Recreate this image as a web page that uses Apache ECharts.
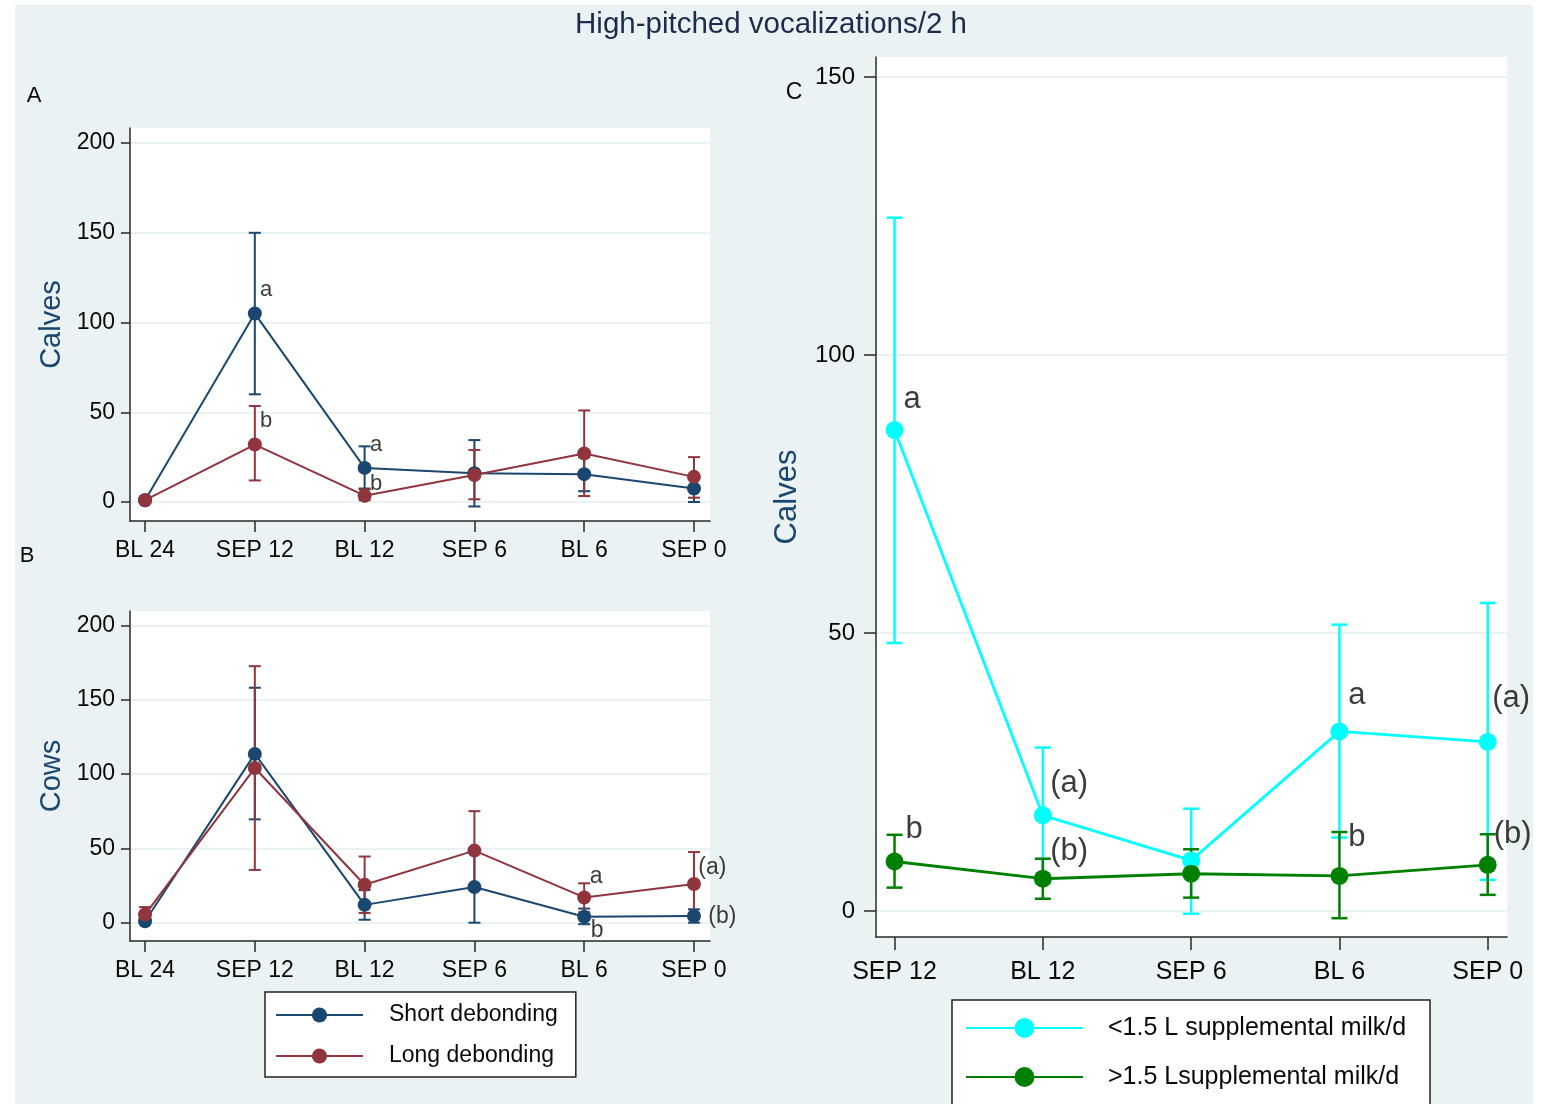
<!DOCTYPE html>
<html>
<head>
<meta charset="utf-8">
<script src="https://cdn.jsdelivr.net/npm/echarts@6/dist/echarts.min.js"></script>
<style>
html,body{margin:0;padding:0;background:#fff;}
#c{width:1542px;height:1104px;}
</style>
</head>
<body>
<div id="c"></div>
<script>
// ---------- data ----------
const catsAB = ['BL 24', 'SEP 12', 'BL 12', 'SEP 6', 'BL 6', 'SEP 0'];
const catsC = ['SEP 12', 'BL 12', 'SEP 6', 'BL 6', 'SEP 0'];
const yTicksAB = [0, 50, 100, 150, 200];
const yTicksC = [0, 50, 100, 150];

// Panel A: calves
const calvesShortMean = [1, 105, 19, 16, 15.5, 7.5];
const calvesShortLow  = [0.5, 60, 7.5, -2.5, 6, 0];
const calvesShortHigh = [1.5, 150, 31, 34.5, 25, 14];
const calvesLongMean  = [1, 32, 3.5, 15, 27, 14];
const calvesLongLow   = [0.5, 12, 1, 1.5, 3.3, 2.4];
const calvesLongHigh  = [1.5, 53.5, 7, 29, 51, 25];

// Panel B: cows
const cowsShortMean = [1, 113.5, 12, 24, 4, 4.5];
const cowsShortLow  = [0, 69.5, 2, 0, -1, 0];
const cowsShortHigh = [2, 158, 22, 48, 9.5, 9];
const cowsLongMean  = [5.5, 104, 25.5, 48.5, 17, 26];
const cowsLongLow   = [0.5, 35.5, 6.5, 22, 7, 5];
const cowsLongHigh  = [10.5, 172.5, 44.5, 75, 26.5, 47.5];

// Panel C: calves by supplemental milk
const lowMilkMean  = [86.5, 17.2, 9.1, 32.3, 30.4];
const lowMilkLow   = [48.2, 5, -0.5, 13.2, 5.6];
const lowMilkHigh  = [124.7, 29.4, 18.4, 51.5, 55.4];
const highMilkMean = [8.9, 5.8, 6.7, 6.3, 8.3];
const highMilkLow  = [4.2, 2.2, 2.4, -1.3, 2.9];
const highMilkHigh = [13.7, 9.4, 11.1, 14.2, 13.8];

// significance letters: [x (category units), y (value), text]
const lettersA = [[1.047, 118, 'a'], [1.047, 45, 'b'], [2.05, 32, 'a'], [2.05, 10, 'b']];
const lettersB = [[4.05, 30.7, 'a'], [4.06, -5.6, 'b'], [5.04, 36.8, '(a)'], [5.13, 3.8, '(b)']];
const lettersC = [[0.06, 92, 'a'], [0.074, 14.6, 'b'], [1.05, 22.9, '(a)'], [1.05, 10.7, '(b)'],
                  [3.06, 38.7, 'a'], [3.06, 13.2, 'b'], [4.03, 38.2, '(a)'], [4.04, 13.7, '(b)']];

const names = ['Short debonding', 'Long debonding', '<1.5 L supplemental milk/d', '>1.5 Lsupplemental milk/d'];

// ---------- styling ----------
const FONT = '"Liberation Sans", Arial, sans-serif';
const BG = '#eaf2f3';
const NAVY = '#1a476f';
const MAROON = '#90353b';
const CYAN = '#00ffff';
const GREEN = '#008000';
const INK = '#0a0a0a';

const zip = (m) => m.map((v, i) => [i, v]);
const zipErr = (lo, hi) => lo.map((v, i) => [i, v, hi[i]]);

function errRender(cap, color, width) {
  return function (params, api) {
    const x = api.value(0), lo = api.value(1), hi = api.value(2);
    const p1 = api.coord([x, lo]), p2 = api.coord([x, hi]);
    const style = { stroke: color, lineWidth: width, fill: null };
    return {
      type: 'group', children: [
        { type: 'line', shape: { x1: p1[0], y1: p1[1], x2: p2[0], y2: p2[1] }, style },
        { type: 'line', shape: { x1: p1[0] - cap, y1: p1[1], x2: p1[0] + cap, y2: p1[1] }, style },
        { type: 'line', shape: { x1: p2[0] - cap, y1: p2[1], x2: p2[0] + cap, y2: p2[1] }, style }
      ]
    };
  };
}

function errSeries(idx, lo, hi, color, cap, width) {
  return {
    type: 'custom', xAxisIndex: idx, yAxisIndex: idx,
    data: zipErr(lo, hi), encode: { x: 0, y: [1, 2] },
    renderItem: errRender(cap, color, width), silent: true, z: 2
  };
}

function lineSeries(idx, name, mean, color, size, width) {
  return {
    type: 'line', name, xAxisIndex: idx, yAxisIndex: idx,
    data: zip(mean), symbol: 'circle', symbolSize: size, showSymbol: true,
    lineStyle: { color, width }, itemStyle: { color }, z: 3, animation: false
  };
}

function letterSeries(idx, arr, fs) {
  return {
    type: 'scatter', xAxisIndex: idx, yAxisIndex: idx, symbolSize: 0, silent: true, z: 5,
    data: arr.map(d => ({ value: [d[0], d[1]], name: d[2] })),
    label: { show: true, position: 'right', distance: 0, formatter: p => p.name,
             fontSize: fs, fontFamily: FONT, color: INK }
  };
}

function xAxis(idx, cats, min, max, fs, tickLen, margin) {
  const vals = cats.map((c, i) => i);
  return {
    type: 'value', gridIndex: idx, min, max,
    axisLine: { show: true, onZero: false, lineStyle: { color: '#2a2a2a', width: 1.5 } },
    axisTick: { show: true, length: tickLen, customValues: vals, lineStyle: { color: '#2a2a2a', width: 1.5 } },
    axisLabel: { customValues: vals, formatter: v => cats[Math.round(v)], fontSize: fs, fontFamily: FONT,
                 color: INK, margin },
    splitLine: { show: false }
  };
}

function yAxis(idx, ticks, min, max, fs, tickLen, margin, name, nfs, gap) {
  return {
    type: 'value', gridIndex: idx, min, max,
    name, nameLocation: 'middle', nameGap: gap, nameRotate: 90,
    nameTextStyle: { fontSize: nfs, fontFamily: FONT, color: NAVY },
    axisLine: { show: true, onZero: false, lineStyle: { color: '#2a2a2a', width: 1.5 } },
    axisTick: { show: true, length: tickLen, customValues: ticks, lineStyle: { color: '#2a2a2a', width: 1.5 } },
    axisLabel: { customValues: ticks, fontSize: fs, fontFamily: FONT, color: INK, margin },
    splitLine: { show: true, lineStyle: { color: BG, width: 2 } }
  };
}

const chart = echarts.init(document.getElementById('c'), null, { renderer: 'canvas' });

const option = {
  backgroundColor: '#fff',
  animation: false,
  title: {
    text: 'High-pitched vocalizations/2 h', left: 'center', top: 5,
    textStyle: { fontSize: 29.5, fontFamily: FONT, fontWeight: 'normal', color: '#1c2c4c' }
  },
  graphic: [
    { type: 'rect', z: -10, shape: { x: 15, y: 5, width: 1518, height: 1100 }, style: { fill: BG }, silent: true },
    { type: 'rect', z: 0, shape: { x: 952, y: 1000, width: 478, height: 120 }, style: { fill: '#fff', stroke: '#222', lineWidth: 1.5 }, silent: true },
    { type: 'text', x: 34, y: 96, style: { text: 'A', fontSize: 22, fontFamily: FONT, fill: INK, align: 'center', verticalAlign: 'middle' } },
    { type: 'text', x: 27, y: 556, style: { text: 'B', fontSize: 22, fontFamily: FONT, fill: INK, align: 'center', verticalAlign: 'middle' } },
    { type: 'text', x: 794, y: 93, style: { text: 'C', fontSize: 23, fontFamily: FONT, fill: INK, align: 'center', verticalAlign: 'middle' } }
  ],
  grid: [
    { left: 130, top: 128, width: 580, height: 393, show: true, backgroundColor: '#fff', borderWidth: 0 },
    { left: 130, top: 611, width: 580, height: 330, show: true, backgroundColor: '#fff', borderWidth: 0 },
    { left: 876, top: 57, width: 631, height: 880, show: true, backgroundColor: '#fff', borderWidth: 0 }
  ],
  xAxis: [
    xAxis(0, catsAB, -0.137, 5.146, 23, 11, 18),
    xAxis(1, catsAB, -0.137, 5.146, 23, 11, 18),
    xAxis(2, catsC, -0.125, 4.13, 25, 13, 23)
  ],
  yAxis: [
    yAxis(0, yTicksAB, -10.6, 208.4, 23, 9, 15, 'Calves', 29, 64),
    yAxis(1, yTicksAB, -12.3, 209.6, 23, 9, 15, 'Cows', 29, 64),
    yAxis(2, yTicksC, -4.68, 153.6, 24, 12, 21, 'Calves', 31, 73)
  ],
  legend: [
    {
      data: [names[0], names[1]], orient: 'vertical', left: 265, top: 992,
      padding: [10, 18, 8, 10], itemGap: 15, itemWidth: 87, itemHeight: 19,
      backgroundColor: '#fff', borderColor: '#222', borderWidth: 1.5, borderRadius: 0,
      selectedMode: false,
      textStyle: { fontSize: 23, fontFamily: FONT, color: INK, lineHeight: 26, padding: [0, 0, 0, 21] }
    },
    {
      data: [names[2], names[3]], orient: 'vertical', left: 952, top: 1000,
      padding: [14, 25, 4, 13], itemGap: 21, itemWidth: 117, itemHeight: 25,
      backgroundColor: 'transparent', borderWidth: 0,
      selectedMode: false, z: 5,
      textStyle: { fontSize: 25, fontFamily: FONT, color: INK, lineHeight: 28, padding: [0, 0, 0, 20] }
    }
  ],
  series: [
    errSeries(0, calvesShortLow, calvesShortHigh, NAVY, 6, 2),
    errSeries(0, calvesLongLow, calvesLongHigh, MAROON, 6, 2),
    lineSeries(0, names[0], calvesShortMean, NAVY, 14, 2),
    lineSeries(0, names[1], calvesLongMean, MAROON, 14, 2),
    letterSeries(0, lettersA, 22),

    errSeries(1, cowsShortLow, cowsShortHigh, NAVY, 6, 2),
    errSeries(1, cowsLongLow, cowsLongHigh, MAROON, 6, 2),
    lineSeries(1, names[0], cowsShortMean, NAVY, 14, 2),
    lineSeries(1, names[1], cowsLongMean, MAROON, 14, 2),
    letterSeries(1, lettersB, 23),

    errSeries(2, lowMilkLow, lowMilkHigh, CYAN, 8, 2.5),
    errSeries(2, highMilkLow, highMilkHigh, GREEN, 8, 2.5),
    lineSeries(2, names[2], lowMilkMean, CYAN, 18, 2.8),
    lineSeries(2, names[3], highMilkMean, GREEN, 18, 2.8),
    letterSeries(2, lettersC, 31)
  ]
};
chart.setOption(option);
</script>
</body>
</html>
